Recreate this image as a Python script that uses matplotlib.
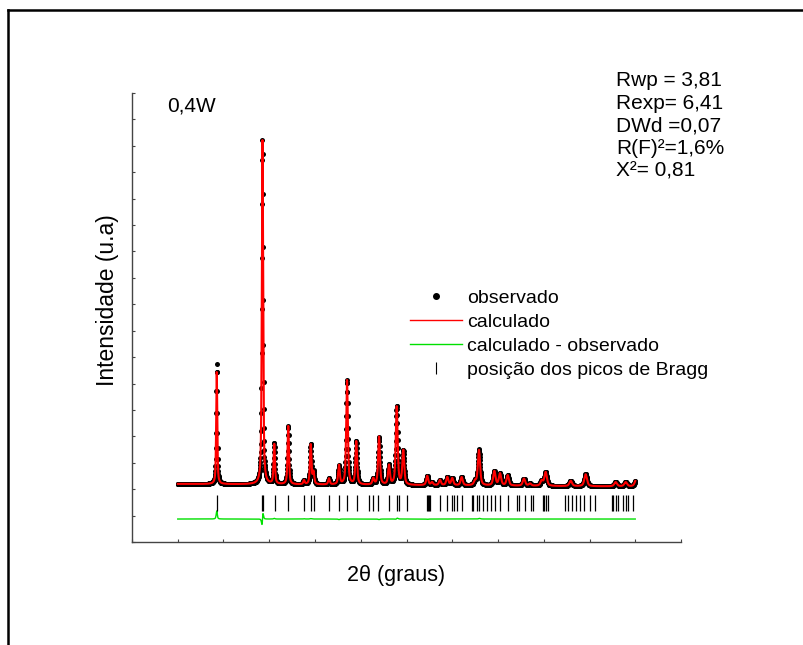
import numpy as np
import matplotlib.pyplot as plt
from matplotlib.lines import Line2D

plt.rcParams['font.family'] = ['Liberation Sans', 'DejaVu Sans']

# reflections: position (2theta, deg), calculated height and observed height (counts above background)
peak_pos = [14.26, 19.26, 20.55, 22.08, 23.80, 24.53, 24.84, 26.53, 27.62, 28.50,
            29.51, 31.37, 32.00, 33.09, 33.93, 34.65, 37.27, 37.79, 38.66, 39.46,
            40.00, 41.03, 42.49, 42.92, 44.60, 45.22, 46.06, 47.84, 48.50, 49.78,
            50.21, 52.95, 54.58, 57.86, 58.96, 60.10]
calc_height = [4240, 13030, 1515, 2208, 150, 1515, 450, 230, 720, 3950,
               1640, 230, 1820, 730, 2970, 1300, 350, 110, 200, 310,
               270, 310, 150, 1340, 540, 450, 390, 270, 80, 190,
               520, 200, 450, 160, 160, 260]
obs_height = [4545, 13030, 1540, 2208, 160, 1530, 450, 230, 700, 3950,
              1640, 230, 1800, 730, 2990, 1300, 340, 110, 200, 310,
              270, 310, 150, 1360, 540, 450, 390, 270, 80, 190,
              520, 200, 450, 160, 160, 260]
obs_shift = [0.0, 0.002, 0.0, 0.0, 0.0, 0.0, 0.0, 0.0, 0.0, 0.0,
             0.0, 0.0, 0.0, 0.0, 0.001, 0.0, 0.0, 0.0, 0.0, 0.0,
             0.0, 0.0, 0.0, 0.001, 0.0, 0.0, 0.0, 0.0, 0.0, 0.0,
             0.0, 0.0, 0.0, 0.0, 0.0, 0.0]

# Bragg reflection positions (deg)
bragg_pos = [14.26, 19.22, 19.32, 20.58, 22.08, 23.83, 24.56, 24.89, 26.56, 27.66,
             28.50, 29.56, 30.85, 31.37, 31.92, 33.12, 33.93, 34.20, 35.02, 37.20,
             37.30, 37.45, 37.55, 38.66, 39.39, 39.94, 40.19, 40.49, 41.03, 42.13,
             42.30, 42.67, 42.96, 43.33, 43.77, 44.23, 44.67, 45.22, 46.06, 47.04,
             47.33, 47.95, 48.57, 48.79, 49.88, 50.06, 50.25, 50.43, 52.32, 52.68,
             53.12, 53.52, 53.96, 54.40, 55.05, 55.60, 57.43, 57.60, 57.86, 58.08,
             58.70, 58.99, 59.24, 59.79]

bg_start, bg_end = 2200, 2100
bragg_level = 1480
diff_offset = 870

tt = np.arange(10.0, 60.0001, 0.02)


def pseudo_voigt(x, x0, h, w, eta=0.6):
    d = (x - x0) / w
    return h * (eta / (1 + 4 * d ** 2) + (1 - eta) * np.exp(-4 * np.log(2) * d ** 2))


bg = bg_start + (bg_end - bg_start) * (tt - tt[0]) / (tt[-1] - tt[0])
calc = bg.copy()
obs = bg.copy()
for p, hc, ho, s in zip(peak_pos, calc_height, obs_height, obs_shift):
    w = 0.12 + 0.005 * (p - 10)
    calc += pseudo_voigt(tt, p, hc, w)
    obs += pseudo_voigt(tt, p + s, ho, w)
diff = obs - calc + diff_offset

fig = plt.figure(figsize=(8.04, 6.45), dpi=100)
ax = fig.add_axes([132 / 804, 1 - 542 / 645, 549 / 804, 449 / 645])

ax.plot(tt, obs, 'o', color='k', ms=3.6, mew=0, zorder=2)
ax.plot(tt, calc, color='red', lw=1.5, zorder=3)
ax.plot(tt, diff, color='#00e000', lw=1.0, zorder=2)
ax.plot(bragg_pos, [bragg_level] * len(bragg_pos), '|', color='k', ms=11.5, mew=0.9)

ax.set_xlim(5, 65)
ax.set_ylim(0, 17000)
ax.set_xticks(np.arange(5, 66, 5))
ax.set_yticks(np.arange(0, 17001, 1000))
ax.set_xticklabels([])
ax.set_yticklabels([])
ax.tick_params(direction='in', length=2.5, width=0.8, color='#444444')
for side in ['top', 'right']:
    ax.spines[side].set_visible(False)
for side in ['left', 'bottom']:
    ax.spines[side].set_color('#444444')
    ax.spines[side].set_linewidth(1.0)

# axis titles
fig.text(396 / 804, 1 - 575 / 645, '2θ (graus)', fontsize=15.5, ha='center', va='center')
fig.text(108 / 804, 1 - 300 / 645, 'Intensidade (u.a)', fontsize=16.5, rotation=90,
         ha='center', va='center')

handles = [
    Line2D([], [], ls='none', marker='o', color='k', ms=4),
    Line2D([], [], color='red', lw=1.0),
    Line2D([], [], color='#00e000', lw=1.0),
    Line2D([], [], ls='none', marker='|', color='k', ms=8, mew=0.8),
]
labels = ['observado', 'calculado', 'calculado - observado', 'posição dos picos de Bragg']
fig.legend(handles, labels, loc='upper left', bbox_to_anchor=(410 / 804, 1 - 289 / 645),
           frameon=False, fontsize=14, handlelength=2.7, handletextpad=0.25,
           labelspacing=0.34, borderpad=0, borderaxespad=0, numpoints=1)

fig.text(167 / 804, 1 - 111.7 / 645, '0,4W', fontsize=15, va='baseline')
stats = ['Rwp = 3,81', 'Rexp= 6,41', 'DWd =0,07', 'R(F)²=1,6%', 'X²= 0,81']
for i, s in enumerate(stats):
    fig.text(616 / 804, 1 - (86.5 + 22.5 * i) / 645, s, fontsize=15, va='baseline')

# outer frame (left and top edges)
fig.add_artist(Line2D([8 / 804, 8 / 804], [0, 1 - 10 / 645], color='k', lw=1.8))
fig.add_artist(Line2D([8 / 804, 1], [1 - 10 / 645, 1 - 10 / 645], color='k', lw=1.8))

fig.savefig('out.png', dpi=100)
